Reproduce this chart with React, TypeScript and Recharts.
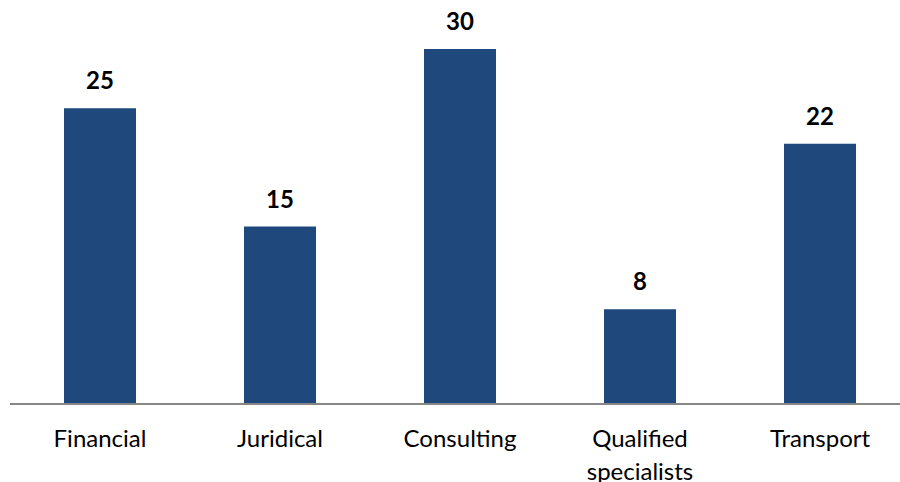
import { Bar, BarChart, LabelList, XAxis, YAxis } from "recharts";
import { FunctionComponent } from "react";

const categories = ["Financial", "Juridical", "Consulting", "Qualified specialists", "Transport"];
const counts = [25, 15, 30, 8, 22];

const data = categories.map((name, i) => ({ name, value: counts[i] }));

const FONT = "Lato, 'Open Sans', sans-serif";

const CategoryTick: FunctionComponent<any> = (props: any) => {
  const { x, y, payload } = props;
  const words: string[] = String(payload.value).split(" ");
  return (
    <g transform={`translate(${x},${y})`}>
      <text x={0} y={0} textAnchor="middle" fill="#000" fontSize={24} fontFamily={FONT}>
        {words.map((w, i) => (
          <tspan key={i} x={0} dy={i === 0 ? 35 : 33}>
            {w}
          </tspan>
        ))}
      </text>
    </g>
  );
};

export default function App() {
  return (
    <div
      style={{
        position: "absolute",
        left: 0,
        top: 0,
        width: 900,
        height: 482,
        overflow: "hidden",
        background: "#fff",
      }}
    >
      <BarChart
        width={910}
        height={482}
        data={data}
        barCategoryGap={54}
        margin={{ top: 49, right: 0, left: 10, bottom: 0 }}
      >
        <XAxis
          dataKey="name"
          interval={0}
          height={78}
          tickLine={false}
          axisLine={{ stroke: "#868686", strokeWidth: 2 }}
          tick={<CategoryTick />}
        />
        <YAxis hide domain={[0, 30]} />
        <Bar dataKey="value" fill="#1F497D" isAnimationActive={false}>
          <LabelList
            dataKey="value"
            position="top"
            offset={19}
            fill="#000"
            fontSize={24}
            fontWeight="bold"
            fontFamily={FONT}
          />
        </Bar>
      </BarChart>
    </div>
  );
}
